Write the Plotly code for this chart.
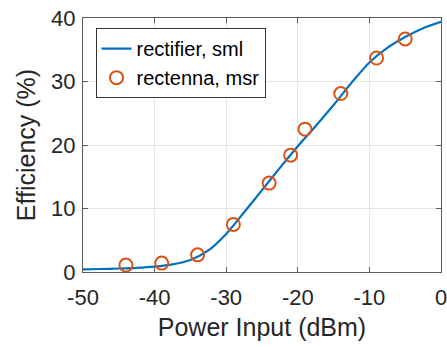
import plotly.graph_objects as go

# Curve: rectifier, simulated
sim_x = [-50, -47.5, -45, -42.5, -40, -37.5, -35, -32.5, -30, -27.5, -25,
         -22.5, -20, -17.5, -15, -12.5, -10, -7.5, -5, -2.5, 0]
sim_y = [0.4, 0.47, 0.55, 0.66, 0.85, 1.2, 1.9, 3.4, 6.0, 9.4, 12.9,
         16.4, 19.8, 23.0, 26.3, 29.8, 33.0, 35.3, 37.0, 38.4, 39.4]

# Markers: rectenna, measured
msr_x = [-44, -39, -34, -29, -24, -21, -19, -14, -9, -5]
msr_y = [1.1, 1.4, 2.7, 7.5, 14.0, 18.4, 22.5, 28.1, 33.7, 36.7]

x_ticks = [-50, -40, -30, -20, -10, 0]
y_ticks = [0, 10, 20, 30, 40]

FONT = "Liberation Sans, Arial, sans-serif"
TXT = "#262626"

fig = go.Figure()
fig.add_trace(go.Scatter(
    x=sim_x, y=sim_y, mode="lines", name="rectifier, sml",
    line=dict(color="#0072BD", width=2.2, shape="spline", smoothing=0.8),
))
fig.add_trace(go.Scatter(
    x=msr_x, y=msr_y, mode="markers", name="rectenna, msr",
    marker=dict(symbol="circle-open", size=13, color="#D95319",
                line=dict(width=2, color="#D95319")),
))

axis_common = dict(
    showgrid=True, gridcolor="#e5e5e5", gridwidth=1,
    showline=True, linecolor="#5a5a5a", linewidth=1, mirror="allticks",
    ticks="inside", ticklen=5, tickcolor="#5a5a5a", tickwidth=1,
    zeroline=False, tickfont=dict(family=FONT, size=22, color=TXT),
    ticklabeloverflow="allow", automargin=False,
)

fig.update_layout(
    width=447, height=347,
    margin=dict(l=83, r=6, t=18, b=75, autoexpand=False),
    paper_bgcolor="white", plot_bgcolor="white",
    font=dict(family=FONT, color=TXT),
    xaxis=dict(range=[-50, 0], tickvals=x_ticks,
               ticktext=[str(v) for v in x_ticks],
               ticklabelstandoff=6,
               title=dict(text="Power Input (dBm)",
                          font=dict(family=FONT, size=25, color=TXT),
                          standoff=9),
               **axis_common),
    yaxis=dict(range=[0, 40], tickvals=y_ticks,
               ticktext=[str(v) for v in y_ticks],
               ticklabelstandoff=2,
               title=dict(text="Efficiency (%)",
                          font=dict(family=FONT, size=25, color=TXT),
                          standoff=8),
               **axis_common),
    legend=dict(x=0.035, y=0.96, xanchor="left", yanchor="top",
                bgcolor="white", bordercolor="#333333", borderwidth=1,
                font=dict(family=FONT, size=20, color="#000000"),
                itemwidth=30, tracegroupgap=0),
    showlegend=True,
)

fig.write_html("out.html")
